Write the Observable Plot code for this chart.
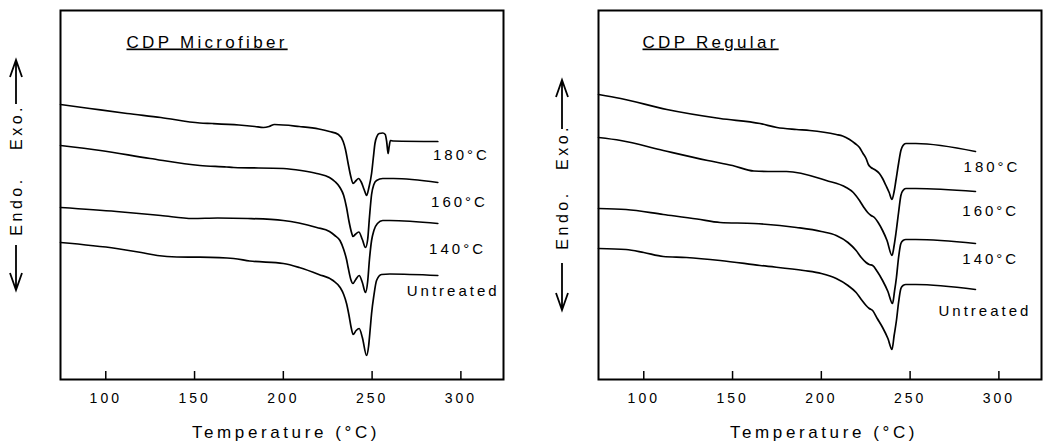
<!DOCTYPE html>
<html><head><meta charset="utf-8">
<script src="https://cdn.jsdelivr.net/npm/d3@7"></script>
<script src="https://cdn.jsdelivr.net/npm/@observablehq/plot@0.6"></script>
<style>
body{margin:0;background:#fff;}
#wrap{position:relative;width:1045px;height:444px;overflow:hidden;background:#fff;font-family:"Liberation Sans",Arial,sans-serif;}
.panel{position:absolute;top:0;}
.dsc text{letter-spacing:3px;font-family:"Liberation Sans",Arial,sans-serif;fill:#000;}
.dsc text[aria-label="title"]{text-decoration:underline;letter-spacing:3.3px;}
.dsc text[aria-label="xlabel"]{letter-spacing:3.6px;}
#ylab{position:absolute;left:0;top:0;}
#ylab text{letter-spacing:3.5px;font-family:"Liberation Sans",Arial,sans-serif;font-size:16px;}
</style></head><body><div id="wrap"></div>
<script>
// ---- data (temperature °C, heat flow in arbitrary units, curves offset vertically) ----
const xTicks = [100, 150, 200, 250, 300];
const xDomain = [74.5, 324];
const yDomain = [0, 369];
const seriesNames = ["180°C", "160°C", "140°C", "Untreated"];
const panelTitles = ["CDP Microfiber", "CDP Regular"];
const xLabel = "Temperature (°C)";

const micro180 = [[74.5,275],[91,271],[112,266],[131,262],[153,256.5],[160,256],[175,254.5],[184,253],[188.8,252],[192,253],[195,255],[209,253],[220,250.5],[226,248],[231,245],[233.7,238],[235,230],[236.5,216],[238,203],[239.3,196],[241,199],[242.3,201],[244,197],[245.5,190],[246.9,184],[248.2,192],[249.7,206],[250.7,222],[251.6,236],[252.7,243],[254,246],[256,246.5],[257.4,245],[258.2,238],[259,226],[259.6,233],[260.3,239],[262,238.5],[287,238]];
const micro160 = [[74.5,234],[97,229],[125,221],[153,214],[168,212.5],[172,212],[200,211],[210,209],[218.8,206],[226,202],[229,198],[231.9,192],[234,184],[235.6,172],[237,158],[238.4,147],[239.2,143],[240.5,145],[242.5,147.5],[244.5,140],[246.3,132],[247.5,140],[248.5,162],[249.7,185],[251,195],[252.5,199],[256,201],[262,201],[287,197]];
const micro140 = [[74.5,172],[106,168],[131,164],[149,161],[163,161.5],[180,161],[200,159],[218.8,152],[226,148],[229,144],[231.9,139],[234,130],[235.6,120],[236.5,112],[238,100],[239.2,96],[240.8,100],[242.7,104],[244.5,97],[246.3,87],[247.5,98],[248.5,120],[249.7,139],[251,149],[253,156],[256,159],[260,159],[287,156]];
const microUntreated = [[74.5,137],[106,131],[120,127],[129,124],[140,122.5],[153,122.3],[172,121],[181,118.5],[200,116],[209,112],[220,105],[228,99],[232,92],[234,85],[235.6,76],[237,64],[238.2,52],[239.3,45],[241,49],[242.7,51],[244.5,42],[246.9,24],[248,33],[249,52],[249.7,66],[251,84],[252.5,99],[255.3,105],[260,105.5],[287,104]];

const reg180 = [[74.5,285],[87,281],[113,270],[143,261],[165.5,256],[175,252],[186,250],[193.5,249],[208.4,245],[212,243.5],[215.9,240],[219,236],[221.5,232],[223.5,226],[225.2,221],[226.5,215],[228,212],[230,210],[232.7,206],[234.5,201],[236.4,194],[238.2,187],[239.8,180],[241,188],[242,199],[243.5,216],[244.8,229],[246,234],[247.6,236],[253.2,236],[286.8,228]];
const reg160 = [[74.5,242],[87,239],[111,229],[136,219],[150,214],[162,208.5],[170,208],[180.4,208],[202.8,199],[214,192],[218,187],[221.5,179],[224,172],[226.1,167],[228,164],[229.9,162],[232,157],[234.5,149],[237,139],[239.8,124],[241,134],[242,146],[243.5,167],[244.8,184],[246,189],[247.6,191],[253.2,191],[286.8,188]];
const reg140 = [[74.5,171],[90,170],[111,165],[130,160.5],[143,157],[162,156],[186,152],[200,148],[208.4,144],[215,137],[219.6,129],[222.5,122],[225.2,117],[227,115],[228.9,114],[231.5,108],[234.5,99],[237.5,88],[240.1,76],[241.2,88],[242.3,102],[243.5,122],[244.8,136],[246,139],[247.6,140],[253.2,140],[286.8,136]];
const regUntreated = [[74.5,131],[90,130],[100,127],[111,123],[124,122],[143,119],[165.5,114],[190,109],[200,106],[208.4,101],[215,94],[219.6,87],[222.5,80],[225.2,74],[227,71],[228.9,69],[231.5,61],[234.5,52],[237.5,41],[239.8,30],[241,44],[242.3,59],[243.5,77],[244.8,91],[246,94],[247.6,95],[253.2,95],[286.8,90]];

// curve label anchors (temperature, heat flow units)
const microLabelT = [284.3, 283.2, 282.1, 269.5];
const microLabelV = [219.5, 173, 126, 83.3];
const regLabelT = [280.1, 279.4, 279.4, 266];
const regLabelV = [207.3, 164, 115.7, 64];

// ---- drawing ----
function panel(opts) {
  const rows = opts.curves.flatMap((c, i) => c.map(([t, v]) => ({t, v, s: seriesNames[i]})));
  const labels = seriesNames.map((n, i) => ({n, t: opts.labelT[i], v: opts.labelV[i]}));
  return Plot.plot({
    className: "dsc",
    width: opts.width, height: 444,
    marginTop: 10, marginBottom: 65, marginLeft: opts.marginLeft, marginRight: opts.marginRight,
    x: {domain: xDomain},
    y: {domain: yDomain, axis: null},
    style: {background: "white", fontFamily: "Liberation Sans, Arial, sans-serif", color: "black"},
    marks: [
      Plot.axisX(xTicks, {tickSize: -8, tickPadding: 22, fontSize: 14, strokeWidth: 1.5, label: null, stroke: "black"}),
      Plot.line(rows, {x: "t", y: "v", z: "s", curve: "monotone-x", stroke: "black", strokeWidth: 1.7}),
      Plot.text(labels, {x: "t", y: "v", text: "n", textAnchor: "start", lineAnchor: "bottom", fontSize: 15}),
      Plot.text([opts.title], {frameAnchor: "top-left", dx: opts.titleDx, dy: 37, textAnchor: "start", lineAnchor: "bottom", fontSize: 17, ariaLabel: () => "title"}),
      Plot.text([xLabel], {frameAnchor: "bottom", dx: opts.xlabelDx, dy: 58.7, lineAnchor: "bottom", fontSize: 17, ariaLabel: () => "xlabel"}),
      Plot.frame({stroke: "black", strokeWidth: 2})
    ]
  });
}

const wrap = document.getElementById("wrap");
const p1 = panel({title: panelTitles[0], curves: [micro180, micro160, micro140, microUntreated],
  labelT: microLabelT, labelV: microLabelV, width: 520, marginLeft: 60, marginRight: 17, titleDx: 66, xlabelDx: 4});
p1.classList.add("panel"); p1.style.left = "0px";
const p2 = panel({title: panelTitles[1], curves: [reg180, reg160, reg140, regUntreated],
  labelT: regLabelT, labelV: regLabelV, width: 525, marginLeft: 78, marginRight: 4, titleDx: 44, xlabelDx: 4});
p2.classList.add("panel"); p2.style.left = "520px";
wrap.append(p1, p2);
// make sure the panel titles are underlined
for (const p of [p1, p2]) {
  d3.select(p).selectAll('text[aria-label="title"]').style("text-decoration", "underline");
}

// y-axis direction labels (Endo. / Exo. with arrows)
const yLabs = [
  {x: 16, exo: 127, endo: 206, upFrom: 104, upTo: 60, downFrom: 245, downTo: 290},
  {x: 562, exo: 147, endo: 220, upFrom: 129, upTo: 80, downFrom: 263, downTo: 310}
];
const svg = d3.select(wrap).append("svg").attr("id", "ylab").attr("width", 1045).attr("height", 444);
for (const d of yLabs) {
  for (const [txt, cy] of [["Exo.", d.exo], ["Endo.", d.endo]]) {
    svg.append("text").attr("transform", `translate(${d.x + 6},${cy}) rotate(-90)`)
      .attr("text-anchor", "middle").text(txt);
  }
  const g = svg.append("g").attr("stroke", "black").attr("stroke-width", 1.8).attr("fill", "none");
  g.append("path").attr("d", `M${d.x},${d.upFrom}V${d.upTo}M${d.x - 6},${d.upTo + 17}L${d.x},${d.upTo}L${d.x + 6},${d.upTo + 17}`);
  g.append("path").attr("d", `M${d.x},${d.downFrom}V${d.downTo}M${d.x - 6},${d.downTo - 17}L${d.x},${d.downTo}L${d.x + 6},${d.downTo - 17}`);
}
</script>
</body></html>
